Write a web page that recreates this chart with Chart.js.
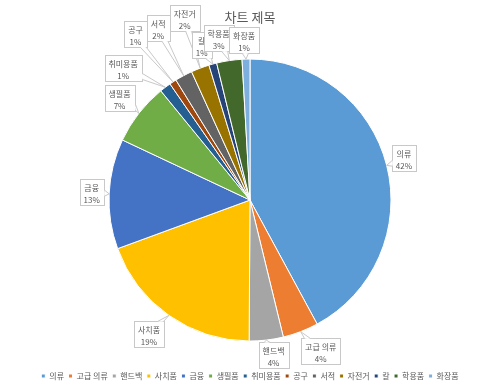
<!DOCTYPE html>
<html>
<head>
<meta charset="utf-8">
<script src="https://cdn.jsdelivr.net/npm/chart.js@4.4.1/dist/chart.umd.min.js"></script>
<style>
  html, body { margin: 0; padding: 0; background: #fff; }
</style>
</head>
<body>
<canvas id="pieChart" width="500" height="390"></canvas>
<script>
const categories = ["의류", "고급 의류", "핸드백", "사치품", "금융", "생필품", "취미용품", "공구", "서적", "자전거", "칼", "학용품", "화장품"];
const values = [42.1, 4.1, 3.9, 19.3, 12.6, 7.1, 1.3, 0.8, 2.0, 2.1, 0.9, 2.9, 0.9];
const sliceColors = ["#5B9BD5", "#ED7D31", "#A5A5A5", "#FFC000", "#4472C4", "#70AD47", "#255E91", "#9E480E", "#636363", "#997300", "#264478", "#43682B", "#7CAFDD"];

// where each callout box sits: px beyond the rim, and a small turn in degrees
const calloutGap = [18.5, 26, 15.5, 26.5, 17.5, 24.5, 42, 60.5, 54, 52.5, 21.5, 24, 19.5];
const calloutTurn = [-1, -4, -2, 2, 0.5, 0, -7, -1.5, 0, 1, -2, -2.5, -0.5];

const fontFamily = "'Noto Sans CJK KR', 'Noto Sans', sans-serif";
Chart.defaults.font.family = fontFamily;

// Excel style callout labels (box + wedge pointing to the slice)
const calloutLabels = {
  id: "calloutLabels",
  afterDatasetsDraw(chart) {
    const ctx = chart.ctx;
    const meta = chart.getDatasetMeta(0);
    const total = values.reduce((a, b) => a + b, 0);
    ctx.save();
    ctx.font = "8px " + fontFamily;
    ctx.textAlign = "center";
    ctx.textBaseline = "middle";

    meta.data.forEach((arc, i) => {
      const p = arc.getProps(["x", "y", "startAngle", "endAngle", "outerRadius"], true);
      const mid = (p.startAngle + p.endAngle) / 2;
      const ax = p.x + Math.cos(mid) * p.outerRadius;
      const ay = p.y + Math.sin(mid) * p.outerRadius;
      const turn = mid + (calloutTurn[i] * Math.PI) / 180;
      const dist = p.outerRadius + calloutGap[i];
      const cx = p.x + Math.cos(turn) * dist;
      const cy = p.y + Math.sin(turn) * dist;

      const line1 = categories[i];
      const line2 = Math.round((values[i] / total) * 100) + "%";
      const w = Math.round(Math.max(ctx.measureText(line1).width, ctx.measureText(line2).width) + 8);
      const h = 26;
      const left = Math.round(cx - w / 2) + 0.5;
      const top = Math.round(cy - h / 2) + 0.5;

      ctx.fillStyle = "#fff";
      ctx.strokeStyle = "#c8c8c8";
      ctx.lineWidth = 1;
      ctx.fillRect(left, top, w, h);
      ctx.strokeRect(left, top, w, h);

      // wedge toward the slice
      const dx = ax - cx;
      const dy = ay - cy;
      let b1, b2;
      if (Math.abs(dx) / (w / 2) > Math.abs(dy) / (h / 2)) {
        const sx = dx > 0 ? left + w : left;
        const my = Math.min(Math.max(cy + (dy * (w / 2)) / Math.abs(dx), top + 4), top + h - 4);
        b1 = [sx, my - 3];
        b2 = [sx, my + 3];
      } else {
        const sy = dy > 0 ? top + h : top;
        const mx = Math.min(Math.max(cx + (dx * (h / 2)) / Math.abs(dy), left + 4), left + w - 4);
        b1 = [mx - 3, sy];
        b2 = [mx + 3, sy];
      }
      const inset = [(b1[0] + b2[0]) / 2 - dx * 0.02, (b1[1] + b2[1]) / 2 - dy * 0.02];
      ctx.beginPath();
      ctx.moveTo(b1[0], b1[1]);
      ctx.lineTo(ax, ay);
      ctx.lineTo(b2[0], b2[1]);
      ctx.lineTo(inset[0], inset[1]);
      ctx.closePath();
      ctx.fill();
      ctx.beginPath();
      ctx.moveTo(b1[0], b1[1]);
      ctx.lineTo(ax, ay);
      ctx.lineTo(b2[0], b2[1]);
      ctx.stroke();

      ctx.fillStyle = "#595959";
      ctx.fillText(line1, cx, top + 8);
      ctx.fillText(line2, cx, top + 20);
    });
    ctx.restore();
  },
};

const ctx = document.getElementById("pieChart").getContext("2d");

new Chart(ctx, {
  type: "pie",
  data: {
    labels: categories,
    datasets: [
      {
        data: values,
        backgroundColor: sliceColors,
        borderColor: "#fff",
        borderWidth: 1,
        radius: 141,
      },
    ],
  },
  options: {
    responsive: false,
    animation: false,
    plugins: {
      title: {
        display: true,
        text: "차트 제목",
        color: "#595959",
        font: { size: 13, weight: "normal" },
        padding: { top: 9, bottom: 8 },
      },
      legend: {
        position: "bottom",
        labels: {
          color: "#595959",
          font: { size: 8 },
          boxWidth: 4,
          boxHeight: 4,
          padding: 4.5,
        },
      },
      tooltip: { enabled: false },
    },
  },
  plugins: [calloutLabels],
});
</script>
</body>
</html>
